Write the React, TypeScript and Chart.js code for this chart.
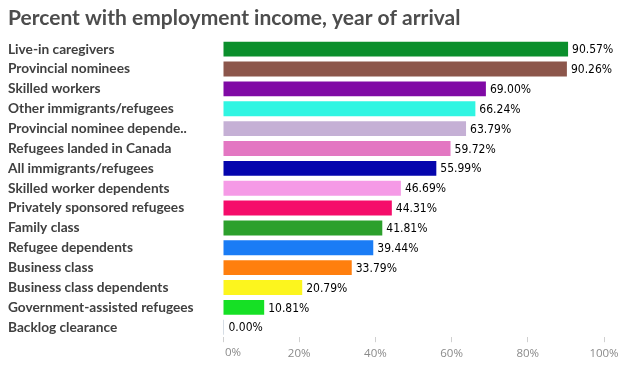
import React, { useEffect, useRef } from "react";
import { Chart, registerables } from "chart.js";

Chart.register(...registerables);

const TITLE = "Percent with employment income, year of arrival";

const categories = [
  "Live-in caregivers",
  "Provincial nominees",
  "Skilled workers",
  "Other immigrants/refugees",
  "Provincial nominee depende..",
  "Refugees landed in Canada",
  "All immigrants/refugees",
  "Skilled worker dependents",
  "Privately sponsored refugees",
  "Family class",
  "Refugee dependents",
  "Business class",
  "Business class dependents",
  "Government-assisted refugees",
  "Backlog clearance",
];

const values = [
  90.57, 90.26, 69.0, 66.24, 63.79, 59.72, 55.99, 46.69, 44.31, 41.81, 39.44,
  33.79, 20.79, 10.81, 0.0,
];

const barColors = [
  "#0b8f2c",
  "#8c564b",
  "#800aa5",
  "#30f5e2",
  "#c5b0d5",
  "#e377c2",
  "#0505ad",
  "#f59ae6",
  "#f50c6a",
  "#2ca02c",
  "#1a7cf5",
  "#ff7f0e",
  "#fcf51e",
  "#16e025",
  "#aebccc",
];

const xTicks = [0, 20, 40, 60, 80, 100];

const TICK_FONT = "11.5px 'Open Sans'";

const valueLabels = {
  id: "valueLabels",
  afterDatasetsDraw(chart: any) {
    const ctx = chart.ctx;
    const meta = chart.getDatasetMeta(0);
    ctx.save();
    ctx.font = "12px 'DejaVu Sans Condensed', 'DejaVu Sans'";
    ctx.fillStyle = "#000000";
    ctx.textAlign = "left";
    ctx.textBaseline = "middle";
    meta.data.forEach((bar: any, i: number) => {
      const end = Math.max(bar.x, bar.base + 1);
      ctx.fillText(values[i].toFixed(2) + "%", end + 4, bar.y + 1);
    });
    // first x tick label, left aligned at the axis start
    const xs = chart.scales.x;
    const firstItem = xs.getLabelItems()[1];
    const ty = firstItem ? firstItem.options.translation[1] : 353;
    ctx.font = TICK_FONT;
    ctx.fillStyle = "#8a8a8a";
    ctx.textAlign = "left";
    ctx.textBaseline = "top";
    ctx.fillText(xTicks[0] + "%", xs.getPixelForValue(xTicks[0]) + 2, ty);
    ctx.restore();
  },
};

export default function App() {
  const ref = useRef<HTMLCanvasElement | null>(null);
  useEffect(() => {
    if (!ref.current) return;
    const chart = new Chart(ref.current, {
      type: "bar",
      data: {
        labels: categories,
        datasets: [
          {
            data: values,
            backgroundColor: barColors,
            borderWidth: 0,
            barPercentage: 0.75,
            categoryPercentage: 1,
            minBarLength: 1,
          },
        ],
      },
      options: {
        indexAxis: "y",
        animation: false,
        responsive: false,
        maintainAspectRatio: false,
        layout: { padding: { left: 8, right: 34, top: 6, bottom: 3 } },
        plugins: {
          legend: { display: false },
          tooltip: { enabled: false },
          title: {
            display: true,
            text: TITLE,
            align: "start",
            color: "#4d4d4d",
            font: { family: "Lato", size: 21, weight: "bold" },
            padding: { top: 0, bottom: 8 },
          },
        },
        scales: {
          x: {
            min: 0,
            max: 100,
            afterBuildTicks(scale: any) {
              scale.ticks = xTicks.map((v) => ({ value: v }));
            },
            grid: {
              display: true,
              drawOnChartArea: false,
              drawTicks: true,
              tickLength: 5,
              color: "#d0d0d0",
            },
            border: { display: false },
            ticks: {
              color: (c: any) => (c.index === 0 ? "rgba(0,0,0,0)" : "#8a8a8a"),
              font: { family: "'Open Sans'", size: 11.5 },
              padding: 5,
              callback: (v: any) => v + "%",
            },
          },
          y: {
            afterFit(scale: any) {
              scale.width = 215;
            },
            grid: { display: false, drawTicks: false },
            border: { display: false },
            ticks: {
              crossAlign: "far",
              color: "#404040",
              font: { family: "Lato", size: 13.7, weight: "bold" },
              padding: 0,
            },
          },
        },
      },
      plugins: [valueLabels],
    });
    return () => chart.destroy();
  }, []);
  return (
    <div style={{ position: "fixed", left: 0, top: 0, width: 638, height: 369 }}>
      <canvas ref={ref} width={638} height={369} />
    </div>
  );
}
